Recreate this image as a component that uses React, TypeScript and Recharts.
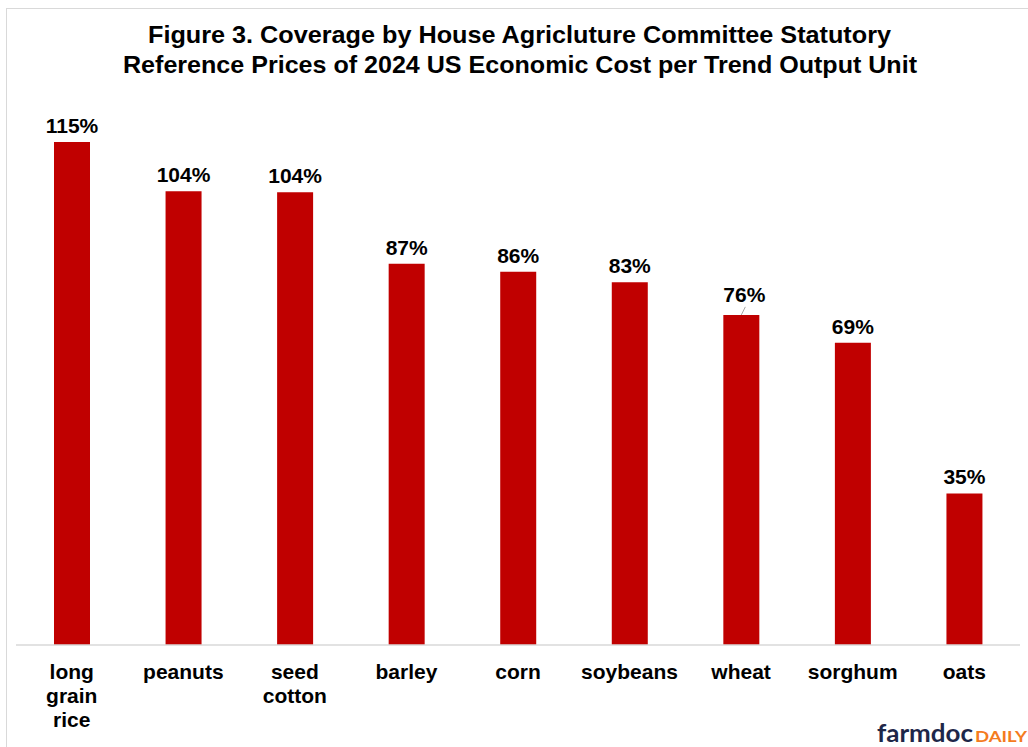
import { BarChart, Bar, XAxis, YAxis, LabelList } from 'recharts';

const crops = ['long grain rice', 'peanuts', 'seed cotton', 'barley', 'corn', 'soybeans', 'wheat', 'sorghum', 'oats'];
const coverage = [115.2, 103.9, 103.7, 87.3, 85.5, 83.1, 75.6, 69.2, 34.7];

const titleLines = [
  'Figure 3.  Coverage by House Agricluture Committee Statutory',
  'Reference  Prices of 2024 US Economic Cost per Trend Output Unit',
];

const chartData = crops.map((c, i) => ({ crop: c, pct: coverage[i] }));

const FONT = '"Liberation Sans", Arial, sans-serif';

function CropTick(props: any) {
  const { x, y, payload } = props;
  const words = String(payload.value).split(' ');
  return (
    <text x={x} y={y} textAnchor="middle" fontFamily={FONT} fontWeight="bold" fontSize={21} fill="#000">
      {words.map((w, i) => (
        <tspan key={i} x={x} dy={i === 0 ? 34 : 24}>{w}</tspan>
      ))}
    </text>
  );
}

function PctLabel(props: any) {
  const { x, y, width, value, index } = props;
  const cx = x + width / 2;
  const leader = crops[index] === 'wheat';
  return (
    <g>
      {leader && <line x1={cx} y1={y} x2={cx + 4} y2={y - 8} stroke="#a6a6a6" strokeWidth={1} />}
      <text
        x={leader ? cx + 3 : cx}
        y={leader ? y - 13 : y - 9}
        textAnchor="middle"
        fontFamily={FONT}
        fontWeight="bold"
        fontSize={21}
        fill="#000"
      >
        {Math.round(value)}%
      </text>
    </g>
  );
}

export default function App() {
  return (
    <div style={{ position: 'fixed', left: 0, top: 0, width: 1028, height: 747, overflow: 'hidden', background: '#fff' }}>
      <div style={{ position: 'absolute', left: 6, top: 8, width: 1100, height: 800, border: '1px solid #d9d9d9' }} />
      <svg width={1028} height={100} style={{ position: 'absolute', left: 0, top: 0 }}>
        <text x={148} y={43} textLength={743} lengthAdjust="spacingAndGlyphs" fontFamily={FONT} fontWeight="bold" fontSize={24} fill="#000">
          {titleLines[0]}
        </text>
        <text x={123} y={73} textLength={794} lengthAdjust="spacingAndGlyphs" fontFamily={FONT} fontWeight="bold" fontSize={24} fill="#000">
          {titleLines[1]}
        </text>
      </svg>
      <div style={{ position: 'absolute', left: 0, top: 0 }}>
        <BarChart width={1028} height={747} data={chartData} margin={{ top: 121, right: 8, left: 16, bottom: 0 }}>
          <XAxis
            dataKey="crop"
            height={102}
            axisLine={{ stroke: '#d9d9d9', strokeWidth: 1.5 }}
            tickLine={false}
            tickSize={0}
            tickMargin={0}
            interval={0}
            tick={<CropTick />}
          />
          <YAxis hide domain={[0, 120]} />
          <Bar dataKey="pct" fill="#c00000" barSize={36} isAnimationActive={false}>
            <LabelList dataKey="pct" content={<PctLabel />} />
          </Bar>
        </BarChart>
      </div>
      <svg width={160} height={28} style={{ position: 'absolute', left: 870, top: 718 }}>
        <text x={7} y={24} textLength={96} lengthAdjust="spacingAndGlyphs" fontFamily="Lato, sans-serif" fontWeight="bold" fontSize={24} fill="#1e2749">
          farmdoc
        </text>
        <text x={105} y={24} textLength={52} lengthAdjust="spacingAndGlyphs" fontFamily="Lato, sans-serif" fontWeight="bold" fontSize={15} fill="#f47b20">
          DAILY
        </text>
      </svg>
    </div>
  );
}
